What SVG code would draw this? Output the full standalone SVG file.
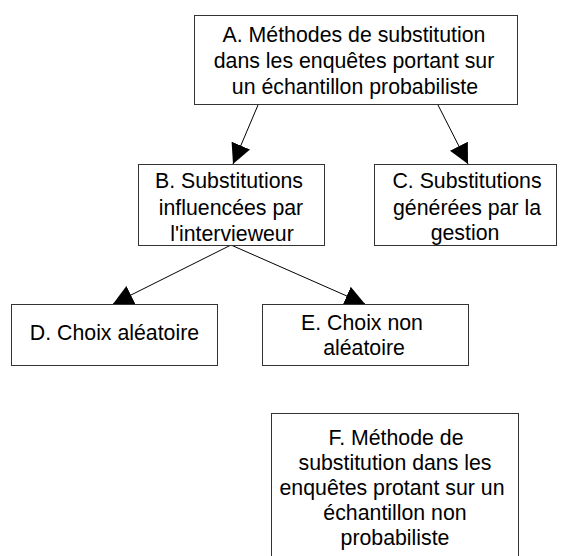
<svg xmlns="http://www.w3.org/2000/svg" width="562" height="556" viewBox="0 0 562 556">
<style>
.box{fill:#fff;stroke:#333;stroke-width:1}
.t{font-family:"Liberation Sans",Arial,sans-serif;font-size:21.3px;fill:#000;text-anchor:middle}
.c{stroke:#000;stroke-width:1;fill:none;marker-end:url(#ah)}
</style>
<defs>
<marker id="ah" markerUnits="userSpaceOnUse" markerWidth="22" markerHeight="22" viewBox="0 -11 22 22" refX="20" refY="0" orient="auto">
<path d="M0,-10 L20,0 L0,10 z" fill="#000"/>
</marker>
</defs>
<rect width="562" height="556" fill="#fff"/>
<g id="connectors">
<line class="c" x1="258" y1="105" x2="233" y2="164"/>
<line class="c" x1="438" y1="105" x2="468" y2="164"/>
<line class="c" x1="231" y1="245" x2="113" y2="304"/>
<line class="c" x1="231" y1="245" x2="365" y2="304"/>
</g>
<g id="A">
<rect class="box" x="194.5" y="15.5" width="323" height="89"/>
<text class="t" x="354" y="42">A. Méthodes de substitution</text>
<text class="t" x="354" y="68">dans les enquêtes portant sur</text>
<text class="t" x="355" y="94">un échantillon probabiliste</text>
</g>
<g id="B">
<rect class="box" x="138.5" y="164.5" width="186" height="81"/>
<text class="t" x="229" y="188">B. Substitutions</text>
<text class="t" x="231" y="215">influencées par</text>
<text class="t" x="232" y="241">l'intervieweur</text>
</g>
<g id="C">
<rect class="box" x="374.5" y="164.5" width="182" height="81"/>
<text class="t" x="467" y="188">C. Substitutions</text>
<text class="t" x="467" y="215">générées par la</text>
<text class="t" x="465" y="240">gestion</text>
</g>
<g id="D">
<rect class="box" x="11.5" y="304.5" width="206" height="61"/>
<text class="t" x="114.5" y="340">D. Choix aléatoire</text>
</g>
<g id="E">
<rect class="box" x="262.5" y="304.5" width="206" height="61"/>
<text class="t" x="362" y="330">E. Choix non</text>
<text class="t" x="364" y="355">aléatoire</text>
</g>
<g id="F">
<rect class="box" x="271.5" y="413.5" width="247" height="145"/>
<text class="t" x="396" y="445">F. Méthode de</text>
<text class="t" x="395" y="470">substitution dans les</text>
<text class="t" x="392" y="495">enquêtes protant sur un</text>
<text class="t" x="395" y="520">échantillon non</text>
<text class="t" x="395" y="545">probabiliste</text>
</g>
</svg>
